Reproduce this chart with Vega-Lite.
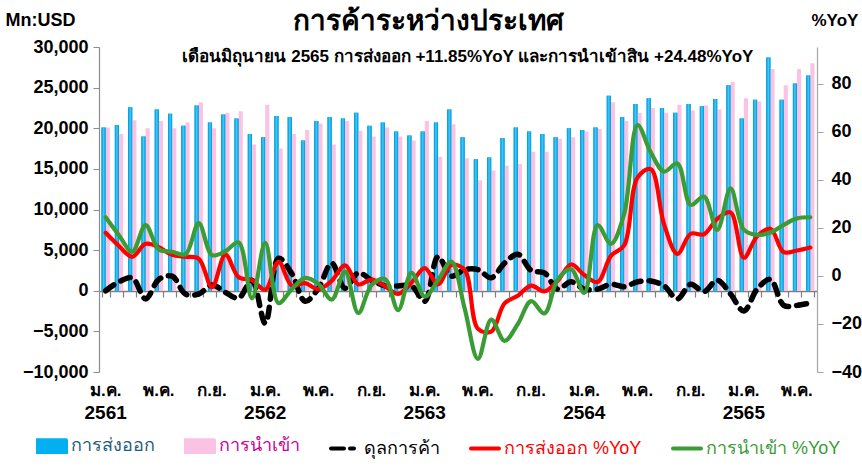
{
  "$schema": "https://vega.github.io/schema/vega-lite/v6.json",
  "width": 718,
  "height": 325,
  "autosize": {"type": "none"},
  "padding": {"left": 99, "top": 47, "right": 45, "bottom": 94},
  "background": "white",
  "config": {
    "view": {"stroke": null},
    "font": "Liberation Sans, Noto Sans, sans-serif",
    "axis": {"grid": false}
  },
  "title": {
    "text": "การค้าระหว่างประเทศ",
    "fontSize": 28,
    "fontWeight": "bold",
    "color": "black",
    "anchor": "middle",
    "frame": "group",
    "dx": -30,
    "dy": 26,
    "offset": 1
  },
  "datasets": {
    "trade": [
      {"m": "2561-01", "exp": 20100, "imp": 20100, "bal": 0, "ey": 18.0, "iy": 24.5},
      {"m": "2561-02", "exp": 20400, "imp": 19300, "bal": 1100, "ey": 12.5, "iy": 17.0},
      {"m": "2561-03", "exp": 22600, "imp": 21000, "bal": 1600, "ey": 8.0, "iy": 10.1},
      {"m": "2561-04", "exp": 19000, "imp": 20000, "bal": -1000, "ey": 13.4, "iy": 21.2},
      {"m": "2561-05", "exp": 22300, "imp": 20900, "bal": 1400, "ey": 12.0, "iy": 11.0},
      {"m": "2561-06", "exp": 21800, "imp": 20000, "bal": 1800, "ey": 8.8, "iy": 10.1},
      {"m": "2561-07", "exp": 20300, "imp": 20700, "bal": -400, "ey": 8.0, "iy": 9.0},
      {"m": "2561-08", "exp": 22800, "imp": 23200, "bal": -400, "ey": 7.2, "iy": 22.0},
      {"m": "2561-09", "exp": 20700, "imp": 20000, "bal": 700, "ey": -4.6, "iy": 8.7},
      {"m": "2561-10", "exp": 21700, "imp": 21900, "bal": -200, "ey": 8.9, "iy": 10.3},
      {"m": "2561-11", "exp": 21200, "imp": 22100, "bal": -900, "ey": -0.5, "iy": 14.0},
      {"m": "2561-12", "exp": 19300, "imp": 18000, "bal": 1300, "ey": -1.7, "iy": -9.3},
      {"m": "2562-01", "exp": 18900, "imp": 22900, "bal": -4000, "ey": -5.7, "iy": 13.8},
      {"m": "2562-02", "exp": 21500, "imp": 17500, "bal": 4000, "ey": 5.9, "iy": -11.3},
      {"m": "2562-03", "exp": 21400, "imp": 19300, "bal": 2100, "ey": -4.0, "iy": -5.5},
      {"m": "2562-04", "exp": 18500, "imp": 19800, "bal": -1300, "ey": -3.0, "iy": -0.8},
      {"m": "2562-05", "exp": 20900, "imp": 20600, "bal": 300, "ey": -5.5, "iy": -3.3},
      {"m": "2562-06", "exp": 21400, "imp": 18000, "bal": 3400, "ey": -2.0, "iy": -9.8},
      {"m": "2562-07", "exp": 21200, "imp": 20900, "bal": 300, "ey": 4.4, "iy": 1.8},
      {"m": "2562-08", "exp": 21900, "imp": 19700, "bal": 2200, "ey": -3.5, "iy": -15.4},
      {"m": "2562-09", "exp": 20300, "imp": 19000, "bal": 1300, "ey": -1.5, "iy": -3.8},
      {"m": "2562-10", "exp": 20700, "imp": 20100, "bal": 600, "ey": -4.2, "iy": -1.2},
      {"m": "2562-11", "exp": 19600, "imp": 19000, "bal": 600, "ey": -7.5, "iy": -14.2},
      {"m": "2562-12", "exp": 19100, "imp": 18500, "bal": 600, "ey": -2.8, "iy": 1.3},
      {"m": "2563-01", "exp": 19600, "imp": 20900, "bal": -1300, "ey": 3.3, "iy": -8.6},
      {"m": "2563-02", "exp": 20700, "imp": 16500, "bal": 4200, "ey": -3.5, "iy": -1.7},
      {"m": "2563-03", "exp": 22300, "imp": 20500, "bal": 1800, "ey": 4.6, "iy": 6.0},
      {"m": "2563-04", "exp": 18900, "imp": 16300, "bal": 2600, "ey": 2.5, "iy": -13.5},
      {"m": "2563-05", "exp": 16200, "imp": 13600, "bal": 2600, "ey": -22.0, "iy": -34.5},
      {"m": "2563-06", "exp": 16400, "imp": 14800, "bal": 1600, "ey": -23.2, "iy": -18.2},
      {"m": "2563-07", "exp": 18800, "imp": 15400, "bal": 3400, "ey": -11.4, "iy": -27.0},
      {"m": "2563-08", "exp": 20100, "imp": 15600, "bal": 4500, "ey": -8.2, "iy": -20.0},
      {"m": "2563-09", "exp": 19600, "imp": 17100, "bal": 2500, "ey": -4.0, "iy": -10.5},
      {"m": "2563-10", "exp": 19300, "imp": 17100, "bal": 2200, "ey": -6.4, "iy": -15.6},
      {"m": "2563-11", "exp": 18900, "imp": 18700, "bal": 200, "ey": -2.0, "iy": -1.5},
      {"m": "2563-12", "exp": 20000, "imp": 18900, "bal": 1100, "ey": 4.8, "iy": 2.8},
      {"m": "2564-01", "exp": 19800, "imp": 19600, "bal": 200, "ey": 0.4, "iy": -7.0},
      {"m": "2564-02", "exp": 20100, "imp": 19900, "bal": 200, "ey": -2.5, "iy": 21.2},
      {"m": "2564-03", "exp": 24000, "imp": 23200, "bal": 800, "ey": 8.4, "iy": 13.4},
      {"m": "2564-04", "exp": 21400, "imp": 20900, "bal": 500, "ey": 12.8, "iy": 26.0},
      {"m": "2564-05", "exp": 23000, "imp": 21900, "bal": 1100, "ey": 41.0, "iy": 62.9},
      {"m": "2564-06", "exp": 23700, "imp": 22500, "bal": 1200, "ey": 44.5, "iy": 51.5},
      {"m": "2564-07", "exp": 22500, "imp": 21900, "bal": 600, "ey": 21.5, "iy": 43.5},
      {"m": "2564-08", "exp": 21900, "imp": 22900, "bal": -1000, "ey": 9.2, "iy": 46.9},
      {"m": "2564-09", "exp": 23000, "imp": 22200, "bal": 800, "ey": 17.6, "iy": 29.6},
      {"m": "2564-10", "exp": 22700, "imp": 22800, "bal": -100, "ey": 17.4, "iy": 33.1},
      {"m": "2564-11", "exp": 23600, "imp": 22300, "bal": 1300, "ey": 23.8, "iy": 19.2},
      {"m": "2564-12", "exp": 25300, "imp": 25700, "bal": -400, "ey": 26.5, "iy": 36.5},
      {"m": "2565-01", "exp": 21200, "imp": 23700, "bal": -2500, "ey": 7.6, "iy": 19.3},
      {"m": "2565-02", "exp": 23500, "imp": 23300, "bal": 200, "ey": 16.6, "iy": 17.1},
      {"m": "2565-03", "exp": 28700, "imp": 27300, "bal": 1400, "ey": 19.7, "iy": 18.1},
      {"m": "2565-04", "exp": 23500, "imp": 25300, "bal": -1800, "ey": 9.9, "iy": 21.3},
      {"m": "2565-05", "exp": 25500, "imp": 27300, "bal": -1800, "ey": 10.6, "iy": 24.0},
      {"m": "2565-06", "exp": 26500, "imp": 28000, "bal": -1500, "ey": 11.85, "iy": 24.48}
    ]
  },
  "data": {"name": "trade"},
  "layer": [
    {
      "transform": [{"fold": ["exp", "imp"], "as": ["key", "val"]}],
      "encoding": {
        "x": {
          "field": "m",
          "type": "ordinal",
          "scale": {"paddingInner": 0.375, "paddingOuter": 0.19},
          "axis": {
            "orient": "bottom",
            "domain": false,
            "ticks": false,
            "title": null,
            "labelAngle": 0,
            "labelOverlap": false,
            "labelFontSize": 17,
            "labelFontWeight": "bold",
            "labelColor": "black",
            "labelPadding": 10,
            "labelBaseline": "top",
            "labelExpr": "slice(datum.value,5)==='01' ? 'ม.ค.' : slice(datum.value,5)==='05' ? 'พ.ค.' : slice(datum.value,5)==='09' ? 'ก.ย.' : ''"
          }
        },
        "xOffset": {"field": "key", "type": "nominal", "sort": ["exp", "imp"], "scale": {"paddingInner": 0, "paddingOuter": 0}},
        "y": {
          "field": "val",
          "type": "quantitative",
          "scale": {"domain": [-10000, 30000], "nice": false, "zero": false},
          "axis": {
            "orient": "left",
            "values": [-10000, -5000, 0, 5000, 10000, 15000, 20000, 25000, 30000],
            "format": ",.0f",
            "labelFontSize": 18,
            "labelFontWeight": "bold",
            "labelColor": "black",
            "labelPadding": 5,
            "domainColor": "#8c8c8c",
            "domainWidth": 1.2,
            "tickColor": "#8c8c8c",
            "tickSize": 6,
            "title": "Mn:USD",
            "titleAngle": 0,
            "titleX": -94,
            "titleY": -27,
            "titleAlign": "left",
            "titleBaseline": "middle",
            "titleFontSize": 18,
            "titleFontWeight": "bold",
            "titleColor": "black"
          }
        }
      },
      "layer": [
        {
          "mark": {"type": "bar"},
          "encoding": {
            "color": {
              "field": "key",
              "type": "nominal",
              "scale": {"domain": ["exp", "imp", "bal", "ey", "iy"], "range": ["#00B0F0", "#FBC3E3", "#000000", "#FF0000", "#3B9C35"]},
              "legend": {
                "orient": "none",
                "legendX": -63,
                "legendY": 383,
                "direction": "horizontal",
                "columns": 5,
                "title": null,
                "padding": 0,
                "labelFontSize": 18,
                "labelOffset": 3,
                "columnPadding": 23,
                "symbolSize": 784,
                "labelLimit": 300,
                "labelExpr": "datum.value==='exp' ? 'การส่งออก' : datum.value==='imp' ? 'การนำเข้า' : datum.value==='bal' ? 'ดุลการค้า' : datum.value==='ey' ? 'การส่งออก %YoY' : 'การนำเข้า %YoY'",
                "encode": {
                  "symbols": {
                    "update": {
                      "shape": {"signal": "(datum.value==='exp' || datum.value==='imp') ? 'M-1,-0.42H1V0.42H-1Z' : 'M-1,0H1'"},
                      "fill": {"signal": "datum.value==='exp' ? '#00B0F0' : datum.value==='imp' ? '#FBC3E3' : 'transparent'"},
                      "stroke": {"signal": "datum.value==='bal' ? '#000000' : datum.value==='ey' ? '#FF0000' : datum.value==='iy' ? '#3B9C35' : 'transparent'"},
                      "strokeWidth": {"value": 4},
                      "strokeDash": {"signal": "datum.value==='bal' ? [13,6,4,5] : [1,0]"},
                      "strokeCap": {"value": "round"},
                      "opacity": {"value": 1}
                    }
                  },
                  "labels": {
                    "update": {
                      "fill": {"signal": "datum.value==='exp' ? '#1F5C7A' : datum.value==='imp' ? '#CC0099' : datum.value==='bal' ? '#000000' : datum.value==='ey' ? '#FF0000' : '#3B9C35'"}
                    }
                  }
                }
              }
            }
          }
        },
        {
          "transform": [{"filter": "datum.key==='exp'"}],
          "mark": {
            "type": "bar",
            "color": {
              "gradient": "linear",
              "x1": 0, "x2": 1, "y1": 0, "y2": 0,
              "stops": [
                {"offset": 0, "color": "#0093D6"},
                {"offset": 0.5, "color": "#3CCBFA"},
                {"offset": 1, "color": "#0093D6"}
              ]
            }
          }
        }
      ]
    },
    {
      "layer": [
        {
          "transform": [{"fold": ["bal"], "as": ["key", "val"]}],
          "mark": {"type": "line", "interpolate": "catmull-rom", "strokeWidth": 5.5, "strokeDash": [10, 8], "strokeCap": "round"},
          "encoding": {
            "x": {
              "field": "m",
              "type": "ordinal",
              "axis": {
                "orient": "bottom",
                "domain": false,
                "ticks": false,
                "title": null,
                "labelAngle": 0,
                "labelOverlap": false,
                "labelFontSize": 19,
                "labelFontWeight": "bold",
                "labelColor": "black",
                "labelPadding": 31,
                "labelBaseline": "top",
                "labelExpr": "slice(datum.value,5)==='01' ? slice(datum.value,0,4) : ''"
              }
            },
            "y": {"field": "val", "type": "quantitative", "scale": {"domain": [-10000, 30000], "nice": false, "zero": false}, "axis": null},
            "color": {"field": "key", "type": "nominal", "scale": {"domain": ["exp", "imp", "bal", "ey", "iy"], "range": ["#00B0F0", "#FBC3E3", "#000000", "#FF0000", "#3B9C35"]}}
          }
        },
        {
          "data": {"values": [{}]},
          "mark": {"type": "text", "align": "left", "baseline": "middle", "fontSize": 17, "fontWeight": "bold", "color": "black", "dx": -3},
          "encoding": {
            "x": {"datum": "2561-07", "type": "ordinal"},
            "y": {"datum": 28800, "type": "quantitative"},
            "text": {"value": "เดือนมิถุนายน 2565 การส่งออก +11.85%YoY และการนำเข้าสิน +24.48%YoY"}
          }
        }
      ]
    },
    {
      "transform": [{"fold": ["ey", "iy"], "as": ["key", "val"]}],
      "mark": {"type": "line", "interpolate": "catmull-rom", "strokeWidth": 4.2, "strokeCap": "round"},
      "encoding": {
        "x": {
          "field": "m",
          "type": "ordinal",
          "axis": {
            "orient": "bottom",
            "offset": -81,
            "labels": false,
            "title": null,
            "domainColor": "#7f7f7f",
            "domainWidth": 1.5,
            "tickColor": "#7f7f7f",
            "tickWidth": 1.2,
            "tickSize": 6,
            "tickBand": "extent"
          }
        },
        "y": {
          "field": "val",
          "type": "quantitative",
          "scale": {"domain": [-40, 95.4], "nice": false, "zero": false},
          "axis": {
            "orient": "right",
            "values": [-40, -20, 0, 20, 40, 60, 80],
            "labelFontSize": 18,
            "labelFontWeight": "bold",
            "labelColor": "black",
            "labelPadding": 8,
            "domainColor": "#a6a6a6",
            "domainWidth": 1.2,
            "tickColor": "#a6a6a6",
            "tickSize": 6,
            "title": "%YoY",
            "titleAngle": 0,
            "titleX": -6,
            "titleY": -27,
            "titleAlign": "left",
            "titleBaseline": "middle",
            "titleFontSize": 17,
            "titleFontWeight": "bold",
            "titleColor": "black"
          }
        },
        "color": {"field": "key", "type": "nominal", "scale": {"domain": ["exp", "imp", "bal", "ey", "iy"], "range": ["#00B0F0", "#FBC3E3", "#000000", "#FF0000", "#3B9C35"]}}
      }
    }
  ],
  "resolve": {"scale": {"y": "independent"}, "axis": {"x": "independent"}}
}
